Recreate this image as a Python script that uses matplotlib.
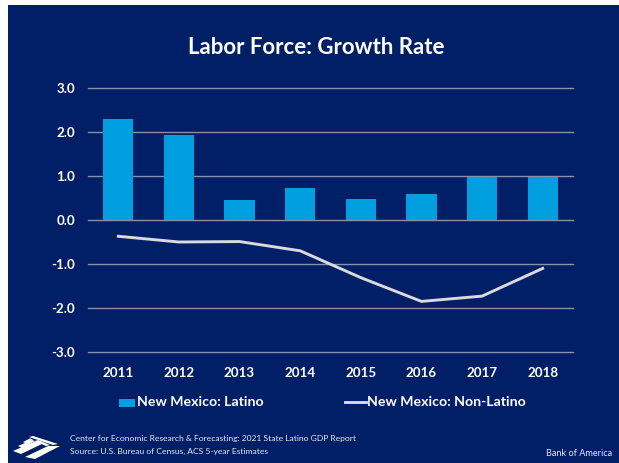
import matplotlib
matplotlib.use("Agg")
import matplotlib.pyplot as plt
from matplotlib.patches import Polygon, Rectangle

years = ["2011", "2012", "2013", "2014", "2015", "2016", "2017", "2018"]
latino = [2.30, 1.94, 0.46, 0.73, 0.48, 0.58, 0.98, 0.97]
non_latino = [-0.37, -0.50, -0.49, -0.70, -1.31, -1.85, -1.73, -1.10]
yticks = [3.0, 2.0, 1.0, 0.0, -1.0, -2.0, -3.0]

navy = "#001f66"
bar_blue = "#009fe0"
line_grey = "#d9d9de"
W, H = 619, 463

plt.rcParams['font.family'] = ['Lato', 'DejaVu Sans']

fig = plt.figure(figsize=(W / 100, H / 100), dpi=100, facecolor="white")

# Navy panel behind everything
fig.add_artist(Rectangle((7.5 / W, 0), (W - 7.5) / W, 1 - 5 / H, transform=fig.transFigure,
                         facecolor=navy, edgecolor="none", zorder=-5))

ax = fig.add_axes([88 / W, 1 - 352 / H, (573 - 88) / W, (352 - 88) / H])
ax.patch.set_alpha(0)
ax.set_xlim(-0.5, 7.5)
ax.set_ylim(-3, 3)

ax.bar(years, latino, width=0.5, color=bar_blue, zorder=3)
ax.plot(years, non_latino, color=line_grey, linewidth=2.1, zorder=4)

ax.set_yticks(yticks)
ax.set_yticklabels([f"{v:.1f}" for v in yticks])
ax.grid(axis="y", color="#8a8fae", linewidth=1.0, zorder=1, clip_on=False)
ax.grid(axis="x", visible=False)
ax.tick_params(length=0, labelcolor="white", labelsize=9.6)
ax.tick_params(axis="y", pad=9.5)
ax.tick_params(axis="x", pad=10.5)
for lab in ax.get_xticklabels() + ax.get_yticklabels():
    lab.set_fontweight("bold")
for s in ax.spines.values():
    s.set_visible(False)


def px_text(x, y, s, **kw):
    fig.text(x / W, 1 - y / H, s, color=kw.pop("color", "white"), va="center", **kw)


px_text(316, 47, "Labor Force: Growth Rate", fontsize=16, fontweight="bold", ha="center")

# Legend placed by hand to sit in the lower band
fig.add_artist(Rectangle((119 / W, 1 - 407 / H), 16 / W, 8 / H, transform=fig.transFigure,
                         facecolor=bar_blue, edgecolor="none"))
px_text(137, 402, "New Mexico: Latino", fontsize=10.2, fontweight="bold")
fig.add_artist(plt.Line2D([345 / W, 366 / W], [1 - 402 / H, 1 - 402 / H], color=line_grey,
                          linewidth=2.1, transform=fig.transFigure))
px_text(367, 402, "New Mexico: Non-Latino", fontsize=10.2, fontweight="bold")

px_text(70, 439, "Center for Economic Research & Forecasting: 2021 State Latino GDP Report",
        fontsize=6.1, color="#e6e8f0")
px_text(70, 451, "Source: U.S. Bureau of Census, ACS 5-year Estimates", fontsize=6.1, color="#e6e8f0")
px_text(612, 453, "Bank of America", fontsize=6.6, color="#e6e8f0", ha="right")

# Flag mark in the corner
marks = [
    [(25, 457), (48, 446), (60, 446), (35, 459)],
    [(13, 451), (36, 441), (44, 443), (21, 454)],
    [(18, 446), (32, 440), (35, 441), (22, 448)],
    [(23, 442), (30, 438.5), (33, 439.5), (26, 443.5)],
    [(29, 437), (33, 436), (58, 444), (53, 445)],
    [(35, 441), (38, 440), (50, 445), (46, 446)],
]
for poly in marks:
    fig.add_artist(Polygon([(x / W, 1 - y / H) for x, y in poly], closed=True,
                           transform=fig.transFigure, facecolor="white", edgecolor="none"))

fig.savefig("out.png", dpi=100, facecolor="white")
